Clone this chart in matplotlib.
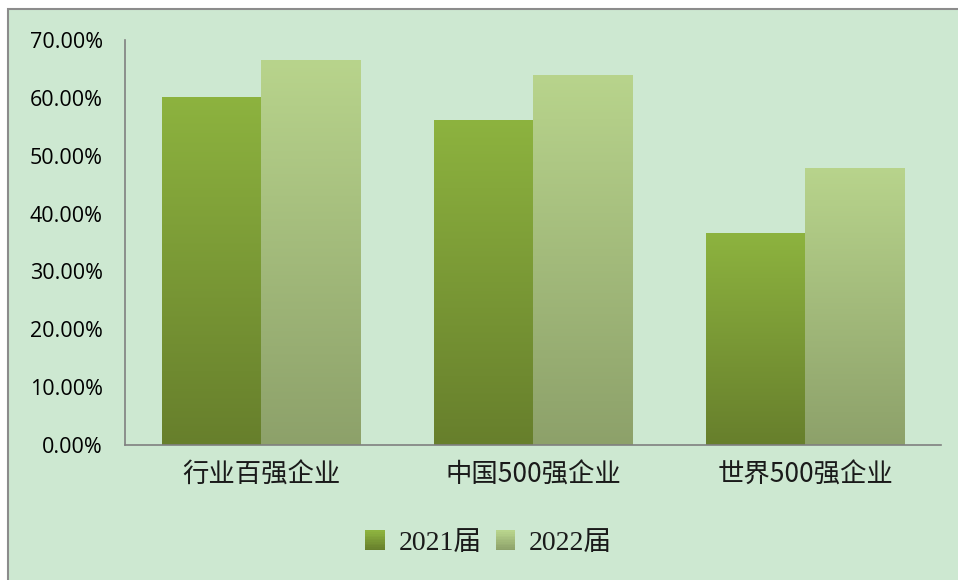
import numpy as np
import matplotlib
matplotlib.use('agg')
import matplotlib.pyplot as plt
from matplotlib.colors import LinearSegmentedColormap
from matplotlib.patches import Rectangle
from matplotlib.legend_handler import HandlerBase
from matplotlib.ticker import FuncFormatter

categories = ['行业百强企业', '中国500强企业', '世界500强企业']
series_names = ['2021届', '2022届']
values_2021 = [60.2, 56.2, 36.6]
values_2022 = [66.5, 63.9, 47.9]

bg = '#cde8d1'
# gradient colours (top, bottom) for each series
grad_2021 = ('#8db33f', '#677f2c')
grad_2022 = ('#b8d48c', '#8da16a')

fig = plt.figure(figsize=(9.58, 5.8), dpi=100, facecolor='white')

# chart area: white margin at left/top, grey frame line on those sides
fig.patches.append(Rectangle((8 / 958, -0.01), 1.0, 1 - 9 / 580 + 0.01,
                             transform=fig.transFigure, facecolor=bg,
                             edgecolor='#8c8c8c', linewidth=1.5, zorder=-5))

ax = fig.add_axes([0.1305, 0.2328, 0.852, 0.6982])
ax.set_facecolor(bg)

x = np.arange(len(categories))
w = 0.364
bars_a = ax.bar(x - w / 2, values_2021, w, color='none', zorder=2)
bars_b = ax.bar(x + w / 2, values_2022, w, color='none', zorder=2)

grad = np.linspace(1, 0, 256).reshape(-1, 1)


def fill_gradient(bars, colors):
    cmap = LinearSegmentedColormap.from_list('g', [colors[1], colors[0]])
    for b in bars:
        x0 = b.get_x()
        bw, bh = b.get_width(), b.get_height()
        im = ax.imshow(grad, cmap=cmap, vmin=0, vmax=1, aspect='auto',
                       extent=(x0, x0 + bw, 0, bh), zorder=2,
                       interpolation='bicubic')
        im.set_clip_path(b)


fill_gradient(bars_a, grad_2021)
fill_gradient(bars_b, grad_2022)
ax.set_xlim(-0.5, 2.5)
ax.set_ylim(0, 70)

ax.set_yticks(np.arange(0, 71, 10))
ax.yaxis.set_major_formatter(FuncFormatter(lambda v, p: f'{v:.2f}%'))
ax.set_xticks(x)
ax.set_xticklabels(categories, family=['Noto Sans CJK SC', 'DejaVu Sans'],
                   fontsize=19, color='#1a1a1a')
for lab in ax.get_yticklabels():
    lab.set_family(['Open Sans', 'DejaVu Sans'])
    lab.set_fontsize(15.5)
ax.tick_params(axis='y', length=0, pad=16)
ax.tick_params(axis='x', length=0, pad=12)

for s in ['top', 'right']:
    ax.spines[s].set_visible(False)
ax.spines['left'].set_color('#808080')
ax.spines['bottom'].set_color('#808080')
ax.spines['left'].set_linewidth(1.2)
ax.spines['bottom'].set_linewidth(1.2)


class GradientSquare(HandlerBase):
    def __init__(self, colors):
        super().__init__()
        self.colors = colors

    def create_artists(self, legend, orig_handle, xdescent, ydescent, width,
                       height, fontsize, trans):
        n = 12
        arts = []
        c0 = np.array(matplotlib.colors.to_rgb(self.colors[1]))
        c1 = np.array(matplotlib.colors.to_rgb(self.colors[0]))
        for i in range(n):
            col = c0 + (c1 - c0) * i / (n - 1)
            r = Rectangle((-xdescent, -ydescent + height * i / n), width,
                          height / n + 0.3, facecolor=col, edgecolor='none',
                          transform=trans)
            arts.append(r)
        return arts


handles = [Rectangle((0, 0), 1, 1), Rectangle((0, 0), 1, 1)]
leg = fig.legend(handles, series_names, loc='center', bbox_to_anchor=(0.51, 0.063),
                 ncol=2, frameon=False, handlelength=0.7, handleheight=0.7,
                 handletextpad=0.5, columnspacing=0.5,
                 handler_map={handles[0]: GradientSquare(grad_2021),
                              handles[1]: GradientSquare(grad_2022)},
                 prop={'family': ['Liberation Serif', 'Noto Sans CJK SC'], 'size': 20})
for t in leg.get_texts():
    t.set_color('#1a1a1a')

plt.savefig('out.png', dpi=100, facecolor='white')
plt.close()
